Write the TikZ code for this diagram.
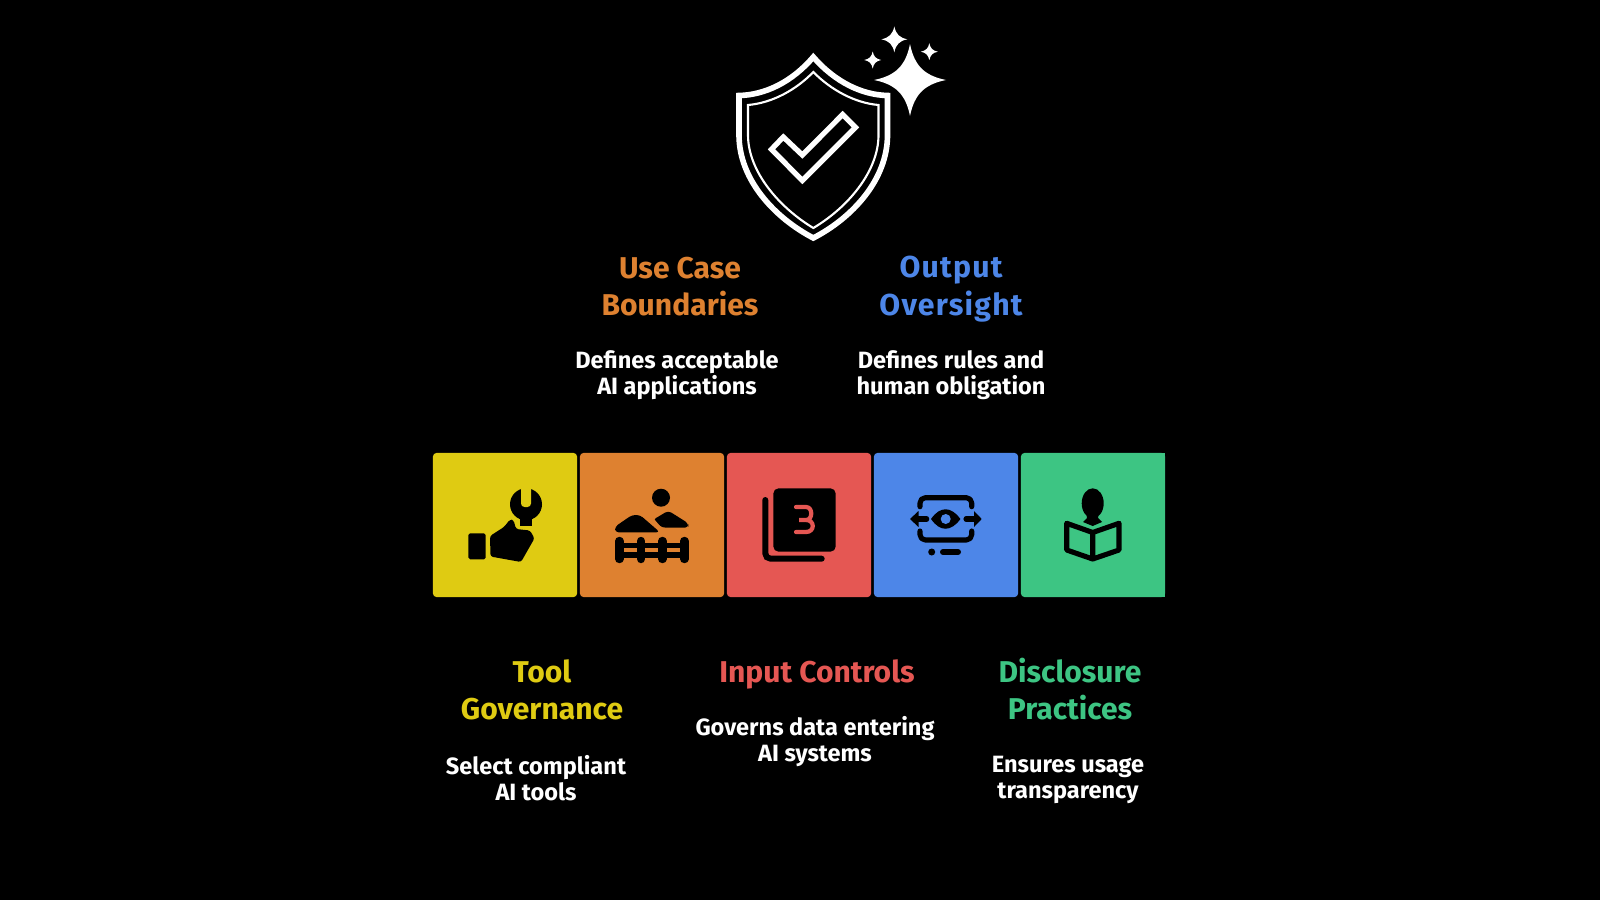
\documentclass[tikz,border=0pt]{standalone}
\usepackage{fontspec}
\setmainfont{Fira Sans}
\usepackage{xcolor}
\usetikzlibrary{
    positioning
}
\definecolor{cyellow}{HTML}{DFCB12}
\definecolor{corange}{HTML}{DE8130}
\definecolor{cred}{HTML}{E55753}
\definecolor{cblue}{HTML}{4D86E8}
\definecolor{cgreen}{HTML}{3DC583}
\tikzset{tile/.style={inner sep=0pt, minimum size=1.44cm, rounded corners=1pt}}
\tikzset{head/.style={font=\fontsize{8.55pt}{10.5pt}\selectfont\bfseries, align=center, inner sep=0pt}}
\tikzset{desc/.style={font=\fontsize{6.7pt}{7.55pt}\selectfont\bfseries, text=white, align=center, inner sep=0pt}}
\tikzset{ink/.style={line width=1.45pt, line cap=round, line join=round}}
\begin{document}
\begin{tikzpicture}[x=0.01cm, y=-0.01cm]
    \fill[black] (0, 0) rectangle (1600, 900);
    % shield
    \draw[white, line width=1.6pt, line join=miter]
    (813.3, 57) .. controls (792, 82) and (765, 95) .. (739, 95.5) -- (739, 135)
    .. controls (739, 180) and (775, 218) .. (813.3, 238)
    .. controls (852, 218) and (887.5, 180) .. (887.5, 135) -- (887.5, 95.5)
    .. controls (862, 95) and (835, 82) .. (813.3, 57) -- cycle;
    \draw[white, line width=0.6pt]
    (813.3, 72) .. controls (796, 90) and (772, 103) .. (748, 105) -- (748, 135)
    .. controls (748, 172) and (780, 208) .. (813.3, 228)
    .. controls (847, 208) and (878.5, 172) .. (878.5, 135) -- (878.5, 105)
    .. controls (855, 103) and (831, 90) .. (813.3, 72) -- cycle;
    \draw[white, line width=1.5pt, line join=miter]
    (771.5, 149.3) -- (783.3, 137) -- (802.3, 155) -- (842.7, 114.5)
    -- (855.5, 127.3) -- (802.3, 180.5) -- cycle;
    % sparkles
    \foreach \sx/\sy/\sr in {910/80/36, 894.3/39.3/13, 929.3/51.7/8.5, 872.7/60/8.5} {
        \fill[white] (\sx, \sy-\sr)
        .. controls (\sx+0.12*\sr, \sy-0.4*\sr) and (\sx+0.4*\sr, \sy-0.12*\sr) .. (\sx+\sr, \sy)
        .. controls (\sx+0.4*\sr, \sy+0.12*\sr) and (\sx+0.12*\sr, \sy+0.4*\sr) .. (\sx, \sy+\sr)
        .. controls (\sx-0.12*\sr, \sy+0.4*\sr) and (\sx-0.4*\sr, \sy+0.12*\sr) .. (\sx-\sr, \sy)
        .. controls (\sx-0.4*\sr, \sy-0.12*\sr) and (\sx-0.12*\sr, \sy-0.4*\sr) .. (\sx, \sy-\sr) -- cycle;
    }

    \node[head, text=corange] (usecase) at (680, 287) {Use Case\\Boundaries};
    \node[head, text=cblue, font=\fontsize{8.6pt}{11pt}\selectfont\bfseries\addfontfeatures{LetterSpace=4}] (output) at (951, 289) {Output\\Oversight};
    \node[desc] (usecasetxt) at (677, 375) {Defines acceptable\\AI applications};
    \node[desc] (outputtxt) at (951, 375) {Defines rules and\\human obligation};

    \node[tile, fill=cyellow] (tool) at (505, 525) {};
    \node[tile, fill=corange] (fence) at (652, 525) {};
    \node[tile, fill=cred] (input) at (799, 525) {};
    \node[tile, fill=cblue] (eye) at (946, 525) {};
    \node[tile, fill=cgreen] (book) at (1093, 525) {};
    \fill[cgreen] (1100, 453) rectangle (1165, 597);

    % wrench and hand
    \fill[black, rounded corners=0.5pt] (468.3, 533.3) rectangle (485.7, 559.3);
    \fill[black, rounded corners=0.7pt] (490, 536) -- (504, 527) -- (510, 519.5) -- (513.5, 520) -- (516, 529)
    -- (530, 530.5) -- (534.5, 538.3) -- (521, 562) -- (490.5, 556.5) -- cycle;
    \fill[black] (526, 504.3) circle (16);
    \fill[black] (520, 512) rectangle (532, 526);
    \fill[cyellow, rounded corners=1pt] (521, 486) rectangle (531, 507);

    % hills and fence
    \fill[black] (661, 497.7) circle (9);
    \fill[black, rounded corners=1pt] (652.7, 520) -- (668.3, 510.7) -- (688.3, 523.3) -- (688.3, 527.7) -- (662.3, 527.7) -- cycle;
    \fill[corange] (643, 533) -- (650, 516.5) -- (654, 519) -- (666, 533) -- cycle;
    \fill[black, rounded corners=1pt] (615, 532.3) -- (615, 526.7) -- (632, 515) -- (640, 515) -- (660, 532.3) -- cycle;
    \foreach \fx in {619.3, 641, 662.3, 684.3} {
        \draw[black, line width=2.4pt, line cap=round] (\fx, 541) -- (\fx, 559);
    }
    \fill[black] (616, 543.3) rectangle (688, 548.3);
    \fill[black] (616, 552.3) rectangle (688, 557.7);

    % numbered stack
    \fill[black, rounded corners=1.5pt] (773.3, 488.3) rectangle (835.7, 551.7);
    \draw[black, line width=1.7pt, line cap=round, rounded corners=1.5pt] (765.3, 500) -- (765.3, 558.7) -- (821.7, 558.7);
    \draw[cred, line width=1.2pt, line cap=round]
    (796, 507) -- (806, 507) .. controls (813, 507) and (813, 520) .. (806, 520) -- (799, 520) -- (806, 520)
    .. controls (815, 520) and (815, 532) .. (806, 532) -- (796, 532);

    % eye and screen
    \draw[black, ink, rounded corners=1.5pt] (920, 506.7) -- (920, 497.7) -- (971.7, 497.7) -- (971.7, 506.7);
    \draw[black, ink, rounded corners=1.5pt] (920, 531) -- (920, 540) -- (971.7, 540) -- (971.7, 531);
    \fill[black] (931, 519) .. controls (940, 506) and (951, 506) .. (960.4, 519)
    .. controls (951, 532) and (940, 532) .. (931, 519) -- cycle;
    \fill[cblue] (945.7, 519) circle (5);
    \fill[black] (910, 519) -- (918.5, 511) -- (918.5, 527) -- cycle;
    \draw[black, ink] (918, 519) -- (926.7, 519);
    \fill[black] (981.7, 519) -- (974, 511) -- (974, 527) -- cycle;
    \draw[black, ink] (966, 519) -- (975, 519);
    \fill[black] (931.7, 552) circle (3.5);
    \draw[black, ink, line width=1.7pt] (943, 552) -- (958, 552);

    % reader
    \fill[black] (1092.7, 503.3) ellipse (11 and 15);
    \fill[black] (1086, 512) -- (1087, 518) -- (1083, 522) -- (1092.7, 526) -- (1102, 522) -- (1098, 518) -- (1099, 512) -- cycle;
    \draw[black, ink] (1092.7, 532.5) -- (1066.7, 523.3) -- (1066.7, 550) -- (1092.7, 559)
    -- (1119, 550) -- (1119, 523.3) -- cycle (1092.7, 532.5) -- (1092.7, 559);

    \node[head, text=cyellow] (toolhd) at (542, 690) {Tool\\Governance};
    \node[head, text=cred] (inputhd) at (817, 674) {Input Controls};
    \node[head, text=cgreen] (bookhd) at (1070, 689.5) {Disclosure\\Practices};
    \node[desc] (tooltxt) at (536, 778) {Select compliant\\AI tools};
    \node[desc] (inputtxt) at (815, 741.5) {Governs data entering\\AI systems};
    \node[desc] (booktxt) at (1068, 780) {Ensures usage\\transparency};
\end{tikzpicture}
\end{document}
